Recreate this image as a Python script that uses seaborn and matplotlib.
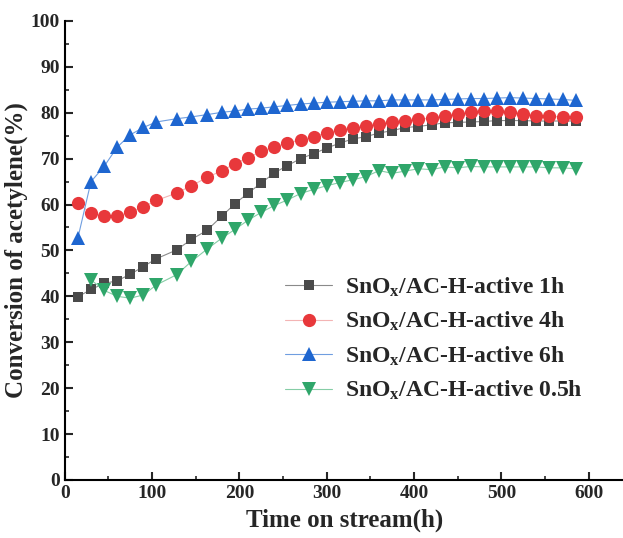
import numpy as np
import pandas as pd
import matplotlib
matplotlib.use("Agg")
import matplotlib.pyplot as plt
import seaborn as sns

# time on stream (h)
time_h = [15, 30, 45, 60, 75, 90, 105, 128, 145, 163, 180, 195,
          210, 225, 240, 255, 270, 285, 300, 315, 330, 345, 360, 375, 390, 405,
          420, 435, 450, 465, 480, 495, 510, 525, 540, 555, 570, 585]

# conversion of acetylene (%)
conv_1h = [39.9, 41.5, 42.8, 43.4, 44.8, 46.5, 48.2, 50.1, 52.4, 54.4, 57.5, 60.2,
           62.5, 64.7, 66.9, 68.5, 70.0, 71.1, 72.3, 73.4, 74.3, 74.8, 75.6, 76.1, 76.8, 77.0,
           77.4, 77.8, 77.9, 78.0, 78.1, 78.3, 78.3, 78.3, 78.2, 78.2, 78.2, 78.2]
conv_4h = [60.3, 58.1, 57.4, 57.5, 58.3, 59.5, 60.9, 62.5, 64.1, 65.9, 67.4, 68.9,
           70.2, 71.6, 72.5, 73.4, 74.1, 74.8, 75.6, 76.3, 76.7, 77.1, 77.6, 78.0, 78.3, 78.6,
           78.8, 79.4, 79.7, 80.2, 80.4, 80.3, 80.1, 79.8, 79.4, 79.2, 79.1, 79.0]
conv_6h = [52.7, 65.0, 68.3, 72.5, 75.2, 76.8, 78.0, 78.7, 79.1, 79.6, 80.1, 80.4,
           80.8, 81.0, 81.3, 81.6, 81.9, 82.1, 82.3, 82.4, 82.5, 82.6, 82.6, 82.8, 82.8, 82.8,
           82.8, 82.9, 83.0, 83.1, 83.1, 83.2, 83.3, 83.2, 83.1, 83.0, 82.9, 82.7]
# 0.5h series starts at 30 h
conv_05h = [43.6, 41.3, 40.0, 39.6, 40.3, 42.5, 44.7, 47.6, 50.3, 52.7, 54.6,
            56.6, 58.3, 59.8, 61.0, 62.4, 63.3, 64.1, 64.8, 65.4, 66.1, 67.4, 66.8, 67.3, 67.8,
            67.6, 68.2, 68.0, 68.3, 68.2, 68.2, 68.2, 68.2, 68.2, 68.0, 68.0, 67.8]

labels = ["SnO$_{\\mathbf{x}}$/AC-H-active 1h",
          "SnO$_{\\mathbf{x}}$/AC-H-active 4h",
          "SnO$_{\\mathbf{x}}$/AC-H-active 6h",
          "SnO$_{\\mathbf{x}}$/AC-H-active 0.5h"]

sns.set_style("ticks")
plt.rcParams['font.family'] = ['Liberation Serif', 'DejaVu Serif']
plt.rcParams['font.weight'] = 'bold'
plt.rcParams['mathtext.fontset'] = 'custom'
plt.rcParams['mathtext.rm'] = 'Liberation Serif:bold'
plt.rcParams['mathtext.bf'] = 'Liberation Serif:bold'
plt.rcParams['mathtext.it'] = 'Liberation Serif:bold'

fig = plt.figure(figsize=(6.23, 5.38), dpi=100)
ax = fig.add_axes([0.104, 0.108, 0.897, 0.853])

series = [
    (time_h, conv_1h, 's', 7.5, '#4a4a4a', '#8a8a8a'),
    (time_h, conv_4h, 'o', 9.5, '#e8383b', '#f3b4b4'),
    (time_h, conv_6h, '^', 9.5, '#1e66d0', '#6f9ee0'),
    (time_h[1:], conv_05h, 'v', 9.5, '#2fa66a', '#86cda6'),
]
for (x, y, mk, ms, fc, lc), lab in zip(series, labels):
    sns.lineplot(x=x, y=y, ax=ax, color=lc, linewidth=0.8, marker=mk, markersize=ms,
                 markerfacecolor=fc, markeredgewidth=0, label=lab)

ax.set_xlim(0, 640)
ax.set_ylim(0, 100)
ax.set_xticks(range(0, 601, 100))
ax.set_yticks(range(0, 101, 10))
ax.set_xticks(range(50, 601, 100), minor=True)
ax.set_yticks(range(5, 100, 10), minor=True)
ax.tick_params(which='major', direction='in', length=6, width=1.5, labelsize=14)
ax.tick_params(which='minor', direction='in', length=3, width=1.2)
for s in ['left', 'bottom']:
    ax.spines[s].set_linewidth(1.5)
    ax.spines[s].set_color('black')
sns.despine(ax=ax)

ax.set_xlabel('Time on stream(h)', fontsize=18, fontweight='bold', labelpad=5)
ax.set_ylabel('Conversion of acetylene(%)', fontsize=18, fontweight='bold', labelpad=2)

ax.legend(loc='upper left', bbox_to_anchor=(0.394, 0.446), frameon=False,
          fontsize=17, handlelength=2.0, handletextpad=0.55, labelspacing=0.48,
          borderpad=0, borderaxespad=0)

fig.savefig('out.png', dpi=100)
